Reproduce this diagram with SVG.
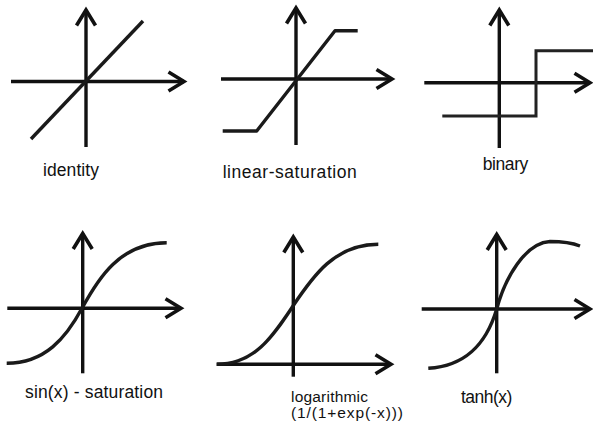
<svg xmlns="http://www.w3.org/2000/svg" width="593" height="429" viewBox="0 0 593 429">
<style>
.ax{fill:none;stroke:#111;stroke-width:3.4;stroke-linecap:butt}
.fn{fill:none;stroke:#1a1a1a;stroke-width:3.4;stroke-linejoin:round;stroke-linecap:butt}
.bin{fill:none;stroke:#222;stroke-width:3;stroke-linejoin:miter}
.lb{font-family:"Liberation Sans",Arial,Helvetica,sans-serif;font-size:17.5px;fill:#111}
.sm{font-size:15.5px}
</style>
<defs>
<marker id="arr" markerUnits="userSpaceOnUse" viewBox="-20 -20 40 40" markerWidth="40" markerHeight="40" refX="0" refY="0" orient="auto">
<path d="M-15.5,-9.5 L0,0 L-15.5,9.5" fill="none" stroke="#111" stroke-width="3.6" stroke-linejoin="miter" stroke-miterlimit="10"/>
</marker>
</defs>
<rect width="593" height="429" fill="#fff"/>

<g id="identity">
<path class="ax" d="M86,147 L86,10" marker-end="url(#arr)"/>
<path class="ax" d="M11,81.5 L184,81.5" marker-end="url(#arr)"/>
<path class="fn" d="M31,139 L143,21"/>
<text class="lb" x="43" y="176" textLength="56" lengthAdjust="spacing">identity</text>
</g>

<g id="linear-saturation">
<path class="ax" d="M296,145 L296,8" marker-end="url(#arr)"/>
<path class="ax" d="M221,79 L392,79" marker-end="url(#arr)"/>
<path class="fn" d="M222.7,131 L256.7,131 L335,30.7 L357.7,30.7"/>
<text class="lb" x="222.7" y="178" font-size="18.5" textLength="134" lengthAdjust="spacing">linear-saturation</text>
</g>

<g id="binary">
<path class="ax" d="M499.3,148 L499.3,10" marker-end="url(#arr)"/>
<path class="ax" d="M424.3,82.7 L590,82.7" marker-end="url(#arr)"/>
<path class="bin" d="M442.3,116 L536,116 L536,50.7 L593,50.7"/>
<text class="lb" x="482.7" y="170" textLength="45.6" lengthAdjust="spacing">binary</text>
</g>

<g id="sin-saturation">
<path class="ax" d="M82.7,373.3 L82.7,233.5" marker-end="url(#arr)"/>
<path class="ax" d="M7.3,308.3 L181,308.3" marker-end="url(#arr)"/>
<path class="fn" d="M6.7,363.3 C45,363.3 66,337.9 82,308.3 C98,278.7 120,242.7 166.7,242.7"/>
<text class="lb" x="25" y="398" textLength="138" lengthAdjust="spacing">sin(x) - saturation</text>
</g>

<g id="logarithmic">
<path class="ax" d="M293.3,376.7 L293.3,237" marker-end="url(#arr)"/>
<path class="ax" d="M216.7,364.3 L391,364.3" marker-end="url(#arr)"/>
<path class="fn" d="M216.7,364.3 C255,364.3 273,336 293,306 C313,276 335,244.3 378.3,244.3"/>
<text class="lb sm" x="291" y="402" textLength="77" lengthAdjust="spacing">logarithmic</text>
<text class="lb sm" x="291" y="418" textLength="112" lengthAdjust="spacing">(1/(1+exp(-x)))</text>
</g>

<g id="tanh">
<path class="ax" d="M496.7,373.3 L496.7,234.5" marker-end="url(#arr)"/>
<path class="ax" d="M421.7,309 L590,309" marker-end="url(#arr)"/>
<path class="fn" d="M428.3,368.3 C465,366 486,345 496.7,309 C505,278 525,243 550,241.5 C565,241.5 575,244 580,246"/>
<text class="lb" x="461" y="403" textLength="51.3" lengthAdjust="spacing">tanh(x)</text>
</g>
</svg>
